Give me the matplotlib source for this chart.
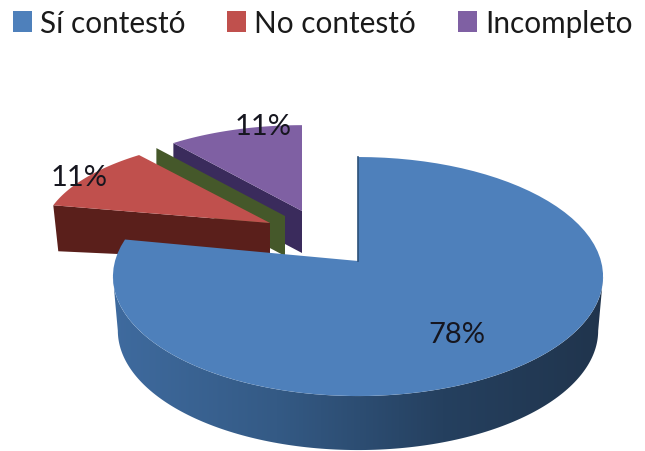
import numpy as np
import matplotlib
matplotlib.use('Agg')
import matplotlib.pyplot as plt
from matplotlib.patches import Patch, Polygon
from matplotlib.colors import LinearSegmentedColormap

# chart data
categories = ['Sí contestó', 'No contestó', '', 'Incompleto']
values = [78, 11, 0, 11]
top_colors = ['#4e80bb', '#c0504d', '#4a5f28', '#7f60a3']
side_colors = ['#345a85', '#5a1f1b', '#45582a', '#3a2b5c']

plt.rcParams['font.family'] = ['Lato', 'DejaVu Sans']

# where each slice sits on the picture: apex x, apex y, radius x, radius y, depth
slice_geom = [
    (358, 262, 243, 117.5, 54),
    (270, 224, 226, 97, 46),
    (285, 217, 222, 97, 40),
    (302, 212, 222, 97, 42),
]
persp = 0.13


def rim(geom, theta):
    # theta clockwise from the top of the pie, in radians
    ax0, ay0, rx, ry, _ = geom
    u = np.sin(theta)
    v = np.cos(theta)
    s = 1 / (1 + persp * v)
    return ax0 + rx * u * s, ay0 - ry * v * s


def wedge_points(geom, t0, t1):
    t = np.linspace(t0, t1, 80)
    x, y = rim(geom, t)
    return np.vstack([[geom[0], geom[1]], np.column_stack([x, y])])


fig = plt.figure(figsize=(6.45, 4.52), dpi=100)
ax = fig.add_axes([0, 0, 1, 1])

edges = np.cumsum([0] + values) / sum(values) * 2 * np.pi

# purple, then green, then red, blue goes last since it is closest
for i in [3, 2, 1]:
    g = slice_geom[i]
    x0, y0 = rim(g, edges[i])
    if i == 1:
        # red shows the cut along its first edge
        side = [(g[0], g[1]), (x0, y0), (x0 + 5, y0 + g[4]), (g[0], g[1] + g[4] - 8)]
    else:
        side = [(g[0], g[1]), (x0, y0), (x0, y0 + g[4]), (g[0], g[1] + g[4])]
    ax.add_patch(Polygon(side, closed=True, fc=side_colors[i], ec='none', zorder=2 + (3 - i) * 2))
    if values[i] > 0:
        ax.add_patch(Polygon(wedge_points(g, edges[i], edges[i + 1]), closed=True,
                             fc=top_colors[i], ec='none', zorder=3 + (3 - i) * 2))

# blue side, colour runs dark to the right
g = slice_geom[0]
cmap = LinearSegmentedColormap.from_list('side', ['#3f6b9f', '#345a85', '#25405f', '#20344c'])
t = np.linspace(np.radians(97.5), np.radians(262.5), 160)
tx, ty = rim(g, t)
bx, by = rim((g[0], g[1], g[2] * 0.98, g[3], g[4]), t)
by = by + g[4]
side_path = Polygon(np.vstack([np.column_stack([tx, ty]), np.column_stack([bx, by])[::-1]]),
                    closed=True, fc='none', ec='none', transform=ax.transData)
ax.add_patch(side_path)
im = ax.imshow(np.linspace(0, 1, 256).reshape(1, -1), cmap=cmap, aspect='auto',
               extent=(110, 610, 452, 200), zorder=10)
im.set_clip_path(side_path)

ax.add_patch(Polygon(wedge_points(g, edges[0], edges[1]), closed=True,
                     fc=top_colors[0], ec='none', zorder=11))
x_top, y_top = rim(g, 0.0)
ax.plot([x_top, g[0]], [y_top, g[1]], color='#2c5078', lw=1.2, zorder=11)

# data labels
label_pos = [(457, 335), (79, 178), None, (263, 127)]
for i, v in enumerate(values):
    if v > 0:
        ax.text(label_pos[i][0], label_pos[i][1], '%d%%' % v, fontsize=21, color='#16161f',
                ha='center', va='center', zorder=20)

handles = [Patch(fc=top_colors[i], ec='none', label=categories[i]) for i in [0, 1, 3]]
ax.set_xlim(0, 645)
ax.set_ylim(452, 0)
ax.axis('off')
ax.legend(handles=handles, ncol=3, loc='upper left', bbox_to_anchor=(13, 10),
          bbox_transform=ax.transData, frameon=False, fontsize=21.4, borderpad=0,
          borderaxespad=0, handlelength=0.63, handleheight=0.68, handletextpad=0.27,
          columnspacing=1.42, labelcolor='#1a1a1a')

fig.savefig('out.png', dpi=100)
